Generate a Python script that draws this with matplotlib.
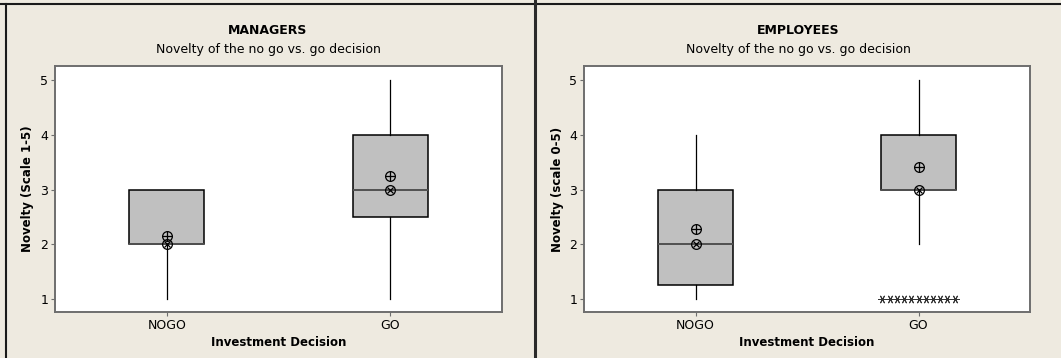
import numpy as np
import matplotlib.pyplot as plt
from matplotlib.lines import Line2D

# 箱线图统计量 (NOGO, GO)
categories = ['NOGO', 'GO']

mgr_q1 = [2.0, 2.5]
mgr_med = [2.0, 3.0]
mgr_q3 = [3.0, 4.0]
mgr_lo = [1.0, 1.0]
mgr_hi = [3.0, 5.0]
mgr_mean = [2.15, 3.24]

emp_q1 = [1.25, 3.0]
emp_med = [2.0, 3.0]
emp_q3 = [3.0, 4.0]
emp_lo = [1.0, 2.0]
emp_hi = [4.0, 5.0]
emp_mean = [2.27, 3.42]
emp_go_outliers = [1] * 11

bg = '#EEEAE0'
W, H = 1061, 358
fig = plt.figure(figsize=(W / 100, H / 100), dpi=100)
fig.patch.set_facecolor(bg)
plt.rcParams['font.family'] = ['DejaVu Sans']


def px_axes(x0, x1, y0, y1):
    return fig.add_axes([x0 / W, (H - y1) / H, (x1 - x0) / W, (y1 - y0) / H])


def draw_panel(ax, title, ylabel, q1, med, q3, lo, hi, mean, outliers=None):
    stats = []
    for i in range(len(categories)):
        stats.append(dict(q1=q1[i], med=med[i], q3=q3[i], whislo=lo[i], whishi=hi[i],
                          fliers=[], label=categories[i]))
    pos = np.arange(1, len(categories) + 1)
    ax.bxp(stats, positions=pos, widths=0.335, patch_artist=True, showcaps=False,
           boxprops=dict(facecolor='#C0C0C0', edgecolor='black', linewidth=1.1),
           whiskerprops=dict(color='black', linewidth=0.9),
           medianprops=dict(color='#505050', linewidth=1.4))
    # 均值 (⊕) 和中位数 (⊗) 符号
    ax.plot(pos, mean, 'o', ms=7, mfc='none', mec='black', mew=0.9, zorder=5)
    ax.plot(pos, mean, '+', ms=7, mec='black', mew=0.9, zorder=5)
    ax.plot(pos, med, 'o', ms=7, mfc='none', mec='black', mew=0.9, zorder=5)
    ax.plot(pos, med, 'x', ms=5, mec='black', mew=0.9, zorder=5)
    if outliers is not None:
        xs = pos[1] + np.linspace(-0.162, 0.162, len(outliers))
        ax.plot(xs, outliers, marker=(6, 2, 90), ls='none', ms=6, mec='#333333', mew=0.7)
    ax.set_xlim(0.5, 2.5)
    ax.set_ylim(0.76, 5.26)
    ax.set_yticks([1, 2, 3, 4, 5])
    ax.set_xticks(pos)
    ax.set_xticklabels(categories)
    ax.set_facecolor('white')
    for s in ax.spines.values():
        s.set_color('#6E6E6E')
        s.set_linewidth(1.4)
    ax.tick_params(length=3, width=0.8, color='#6E6E6E', labelsize=9, pad=2)
    ax.set_xlabel('Investment Decision', fontsize=8.5, fontweight='bold', labelpad=3)
    ax.set_ylabel(ylabel, fontsize=8.5, fontweight='bold', labelpad=4)


ax1 = px_axes(55, 502, 66, 312)
draw_panel(ax1, 'MANAGERS', 'Novelty (Scale 1-5)', mgr_q1, mgr_med, mgr_q3,
           mgr_lo, mgr_hi, mgr_mean)
ax2 = px_axes(584, 1030, 66, 312)
draw_panel(ax2, 'EMPLOYEES', 'Novelty (scale 0-5)', emp_q1, emp_med, emp_q3,
           emp_lo, emp_hi, emp_mean, emp_go_outliers)

subtitle = 'Novelty of the no go vs. go decision'
for cx, t in [(268, 'MANAGERS'), (798, 'EMPLOYEES')]:
    fig.text(cx / W, 1 - 31 / H, t, ha='center', va='center', fontsize=9, fontweight='bold')
    fig.text(cx / W, 1 - 49 / H, subtitle, ha='center', va='center', fontsize=9)

# 面板边框与分隔线
fig.add_artist(Line2D([6 / W, 6 / W], [0, 1 - 4 / H], color='#1A1A1A', lw=1.5))
fig.add_artist(Line2D([0, 1], [1 - 4 / H, 1 - 4 / H], color='#1A1A1A', lw=1.5))
fig.add_artist(Line2D([534.5 / W, 534.5 / W], [0, 1], color='#2A2A2A', lw=2.2))

fig.savefig('out.png', dpi=100, facecolor=bg)
